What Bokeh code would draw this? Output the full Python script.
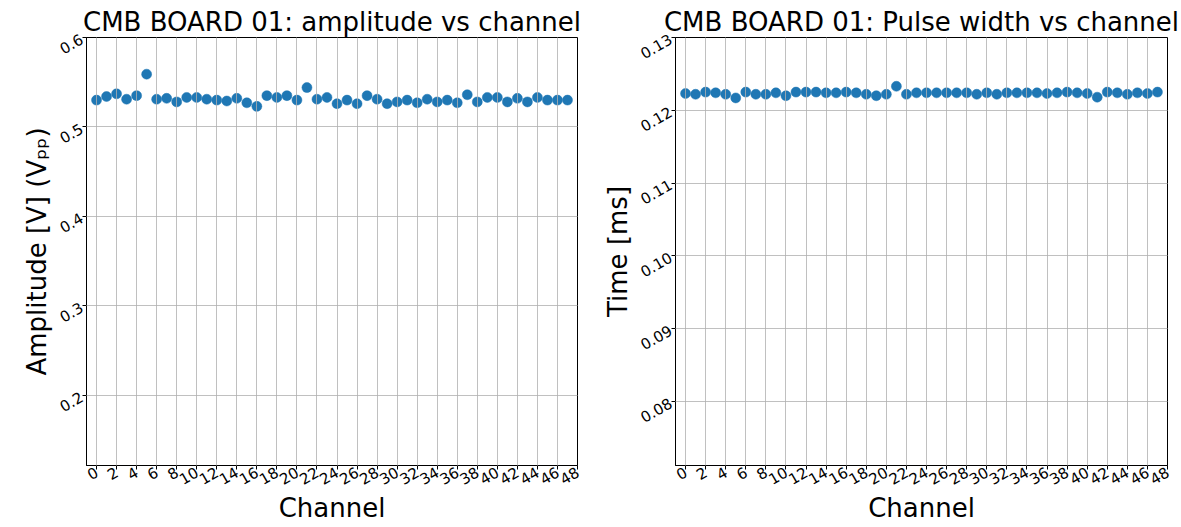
import math

from bokeh.embed import file_html
from bokeh.layouts import row
from bokeh.models import ColumnDataSource, FixedTicker, Range1d
from bokeh.plotting import figure
from bokeh.resources import INLINE

channels = list(range(48))

amplitude = [
    0.530, 0.534, 0.537, 0.531, 0.535, 0.559, 0.531, 0.532, 0.528, 0.533,
    0.533, 0.531, 0.530, 0.529, 0.532, 0.527, 0.523, 0.535, 0.533, 0.535,
    0.530, 0.544, 0.531, 0.533, 0.526, 0.530, 0.526, 0.535, 0.531, 0.526,
    0.528, 0.530, 0.527, 0.531, 0.528, 0.530, 0.527, 0.536, 0.528, 0.533,
    0.533, 0.528, 0.532, 0.528, 0.533, 0.530, 0.530, 0.530,
]

pulse_width = [
    0.1223, 0.1222, 0.1225, 0.1224, 0.1222, 0.1217, 0.1225, 0.1222, 0.1222, 0.1224,
    0.1220, 0.1225, 0.1225, 0.1225, 0.1224, 0.1224, 0.1225, 0.1224, 0.1222, 0.1220,
    0.1222, 0.1233, 0.1222, 0.1224, 0.1224, 0.1224, 0.1224, 0.1224, 0.1224, 0.1222,
    0.1224, 0.1222, 0.1224, 0.1224, 0.1224, 0.1224, 0.1223, 0.1224, 0.1225, 0.1224,
    0.1223, 0.1218, 0.1225, 0.1224, 0.1222, 0.1224, 0.1223, 0.1225,
]

x_ticks = list(range(0, 50, 2))
amp_ticks = [0.2, 0.3, 0.4, 0.5, 0.6]
amp_tick_labels = ["0.2", "0.3", "0.4", "0.5", "0.6"]
width_ticks = [0.08, 0.09, 0.10, 0.11, 0.12, 0.13]
width_tick_labels = ["0.08", "0.09", "0.10", "0.11", "0.12", "0.13"]

FONT = "DejaVu Sans"
BLUE = "#1f77b4"
GRID = "#b0b0b0"


def make_panel(title, ylabel, values, yticks, ylabels, yrange, width, border_left, border_right):
    src = ColumnDataSource(dict(ch=channels, val=values))
    p = figure(
        width=width, height=527,
        x_range=Range1d(-1, 48), y_range=Range1d(*yrange),
        output_backend="svg", toolbar_location=None,
        min_border_left=border_left, min_border_right=border_right,
        min_border_top=37, min_border_bottom=62,
        title=title,
    )
    p.scatter("ch", "val", source=src, size=10, color=BLUE, line_color=BLUE, line_width=0.5)

    p.title.text_font = FONT
    p.title.text_font_size = "26px"
    p.title.text_font_style = "normal"
    p.title.text_color = "black"
    p.title.align = "center"
    p.title.standoff = 1

    p.xaxis.ticker = FixedTicker(ticks=x_ticks)
    p.yaxis.ticker = FixedTicker(ticks=yticks)
    p.yaxis.major_label_overrides = {t: s for t, s in zip(yticks, ylabels)}
    p.xaxis.axis_label = "Channel"
    p.yaxis.axis_label = ylabel

    for ax in (p.xaxis, p.yaxis):
        ax.axis_label_text_font = FONT
        ax.axis_label_text_font_size = "26px"
        ax.axis_label_text_font_style = "normal"
        ax.axis_label_text_color = "black"
        ax.major_label_text_font = FONT
        ax.major_label_text_font_size = "15px"
        ax.major_label_text_color = "black"
        ax.major_label_orientation = math.radians(30)
        ax.axis_line_color = "black"
        ax.major_tick_line_color = "black"
        ax.major_tick_out = 4
        ax.major_tick_in = 0
        ax.minor_tick_line_color = None
        ax.major_label_standoff = 1
        ax.axis_label_standoff = 0

    # grid lines sit over the markers, as the thin light streaks through the dots show
    for g in (p.xgrid, p.ygrid):
        g.grid_line_color = GRID
        g.grid_line_width = 0.8
        g.level = "overlay"
    p.xgrid.ticker = FixedTicker(ticks=x_ticks)
    p.ygrid.ticker = FixedTicker(ticks=yticks)

    p.outline_line_color = "black"
    p.outline_line_width = 1
    p.background_fill_color = "white"
    p.border_fill_color = "white"
    return p


left = make_panel(
    "CMB BOARD 01: amplitude vs channel", "Amplitude [V] (Vₚₚ)",
    amplitude, amp_ticks, amp_tick_labels, (0.1215, 0.6), 590, 86, 13,
)
right = make_panel(
    "CMB BOARD 01: Pulse width vs channel", "Time [ms]",
    pulse_width, width_ticks, width_tick_labels, (0.0712, 0.13), 591, 85, 14,
)

layout = row(left, right)
open("out.html", "w").write(file_html(layout, INLINE))
